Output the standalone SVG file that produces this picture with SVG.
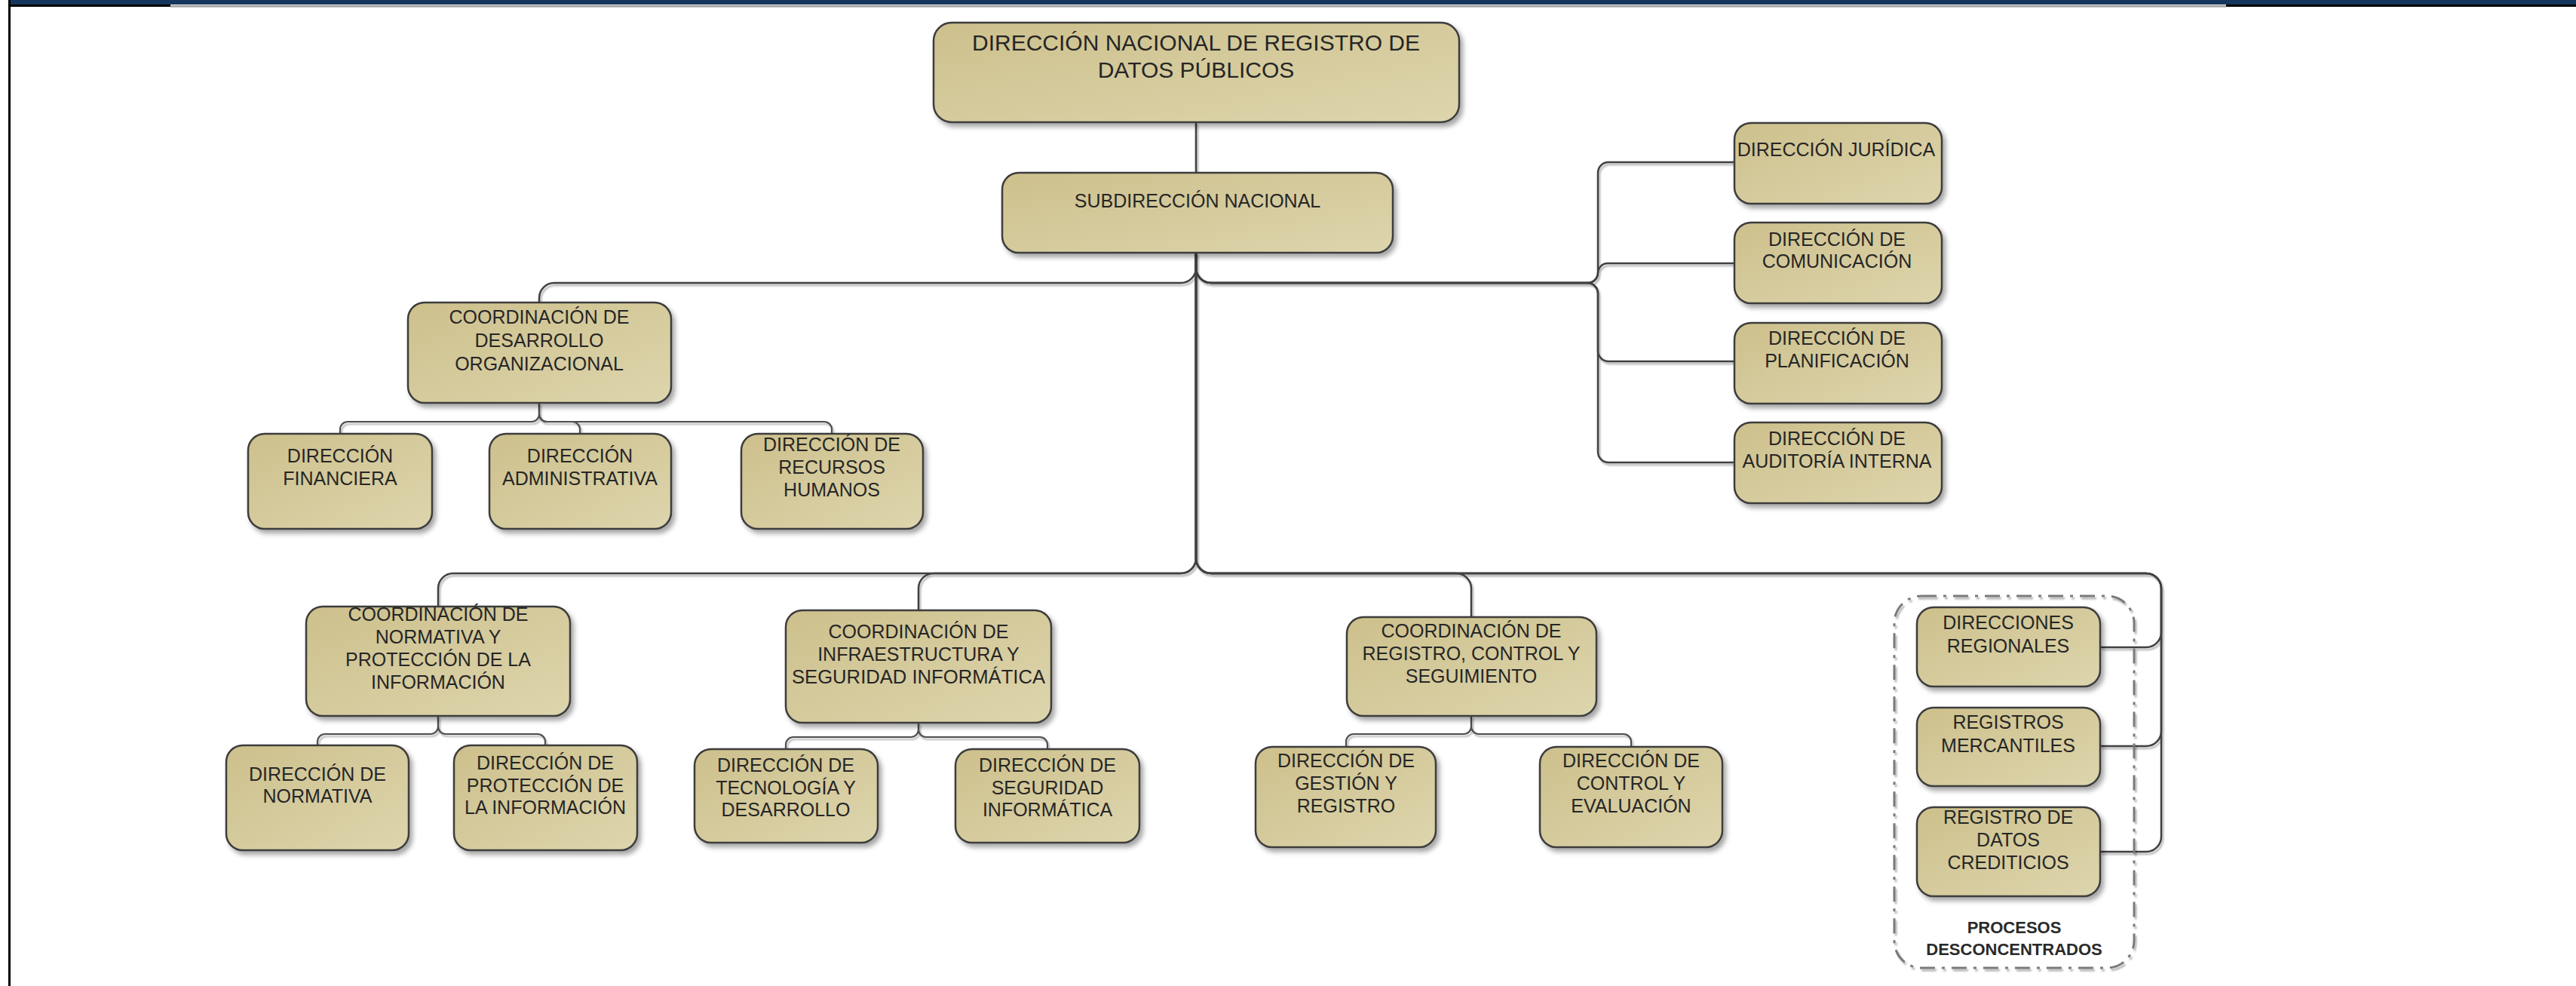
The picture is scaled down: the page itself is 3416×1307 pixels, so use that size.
<svg xmlns="http://www.w3.org/2000/svg" width="3416" height="1307" viewBox="0 0 3416 1307">
<defs>
<linearGradient id="fillG" x1="0" y1="0" x2="1" y2="1">
<stop offset="0" stop-color="#cdc08c"/>
<stop offset="1" stop-color="#ddd5ad"/>
</linearGradient>
<linearGradient id="greyLine" x1="0" y1="0" x2="0" y2="1">
<stop offset="0" stop-color="#8c8c8c"/>
<stop offset="1" stop-color="#c8c8c8"/>
</linearGradient>
<filter id="boxSh" x="-10%" y="-10%" width="125%" height="130%">
<feDropShadow dx="4" dy="5" stdDeviation="3" flood-color="#000" flood-opacity="0.35"/>
</filter>
<filter id="lineSh" x="-5%" y="-5%" width="110%" height="110%">
<feDropShadow dx="2" dy="3" stdDeviation="1.2" flood-color="#000" flood-opacity="0.3"/>
</filter>
</defs>
<style>
.box{fill:url(#fillG);stroke:#3c3c3c;stroke-width:2.5;filter:url(#boxSh)}
.t{font-family:"Liberation Sans",Arial,sans-serif;font-size:25px;fill:#262626;text-anchor:middle}
.tb{font-family:"Liberation Sans",Arial,sans-serif;font-size:30px;fill:#262626;text-anchor:middle}
.tp{font-family:"Liberation Sans",Arial,sans-serif;font-size:22px;font-weight:bold;fill:#2a2a2a;text-anchor:middle}
.c{fill:none;stroke:#404040;stroke-width:2.5}
.c2{fill:none;stroke:#505050;stroke-width:2.2}
</style>
<rect x="0" y="0" width="3416" height="1307" fill="#ffffff"/>
<g id="frame">
<rect x="14" y="0" width="3402" height="6" fill="#17365d"/>
<rect x="11" y="6" width="215" height="3" fill="#000"/>
<rect x="226" y="7" width="2726" height="3" fill="url(#greyLine)"/>
<rect x="2952" y="6" width="464" height="3" fill="#000"/>
<rect x="11" y="0" width="3" height="1307" fill="#000"/>
</g>
<g id="connectors" filter="url(#lineSh)">
<path class="c" d="M1586,162 V229"/>
<path class="c" d="M1586,335 V355 A20,20 0 0 1 1566,375 H735 A20,20 0 0 0 715,395 V401"/>
<path class="c" d="M1586,335 V355 A20,20 0 0 0 1606,375 H2105 A14,14 0 0 0 2119,361 V229 A14,14 0 0 1 2133,215 H2300"/>
<path class="c" d="M1586,335 V355 A20,20 0 0 0 1606,375 H2106 A13,13 0 0 0 2119,362 A13,13 0 0 1 2132,349 H2300"/>
<path class="c" d="M1586,335 V355 A20,20 0 0 0 1606,375 H2105 A14,14 0 0 1 2119,389 V465 A14,14 0 0 0 2133,479 H2300"/>
<path class="c" d="M1586,335 V355 A20,20 0 0 0 1606,375 H2105 A14,14 0 0 1 2119,389 V599 A14,14 0 0 0 2133,613 H2300"/>
<path class="c" d="M1586,335 V740 A20,20 0 0 1 1566,760 H601 A20,20 0 0 0 581,780 V804"/>
<path class="c" d="M1586,335 V740 A20,20 0 0 1 1566,760 H1238 A20,20 0 0 0 1218,780 V809"/>
<path class="c" d="M1586,335 V740 A20,20 0 0 0 1606,760 H1931 A20,20 0 0 1 1951,780 V818"/>
<path class="c" d="M1586,335 V740 A20,20 0 0 0 1606,760 H2846 A20,20 0 0 1 2866,780 V838 A20,20 0 0 1 2846,858 H2785"/>
<path class="c" d="M1586,335 V740 A20,20 0 0 0 1606,760 H2846 A20,20 0 0 1 2866,780 V969 A20,20 0 0 1 2846,989 H2785"/>
<path class="c" d="M1586,335 V740 A20,20 0 0 0 1606,760 H2846 A20,20 0 0 1 2866,780 V1109 A20,20 0 0 1 2846,1129 H2785"/>
<path class="c2" d="M715,534 V549 A10,10 0 0 1 705,559 H461 A10,10 0 0 0 451,569 V575"/>
<path class="c2" d="M715,534 V549 A10,10 0 0 0 725,559 H759 A10,10 0 0 1 769,569 V575"/>
<path class="c2" d="M715,534 V549 A10,10 0 0 0 725,559 H1093 A10,10 0 0 1 1103,569 V575"/>
<path class="c2" d="M581,949 V963 A10,10 0 0 1 571,973 H431 A10,10 0 0 0 421,983 V988"/>
<path class="c2" d="M581,949 V963 A10,10 0 0 0 591,973 H713 A10,10 0 0 1 723,983 V988"/>
<path class="c2" d="M1218,958 V967 A10,10 0 0 1 1208,977 H1052 A10,10 0 0 0 1042,987 V993"/>
<path class="c2" d="M1218,958 V967 A10,10 0 0 0 1228,977 H1379 A10,10 0 0 1 1389,987 V993"/>
<path class="c2" d="M1951,949 V963 A10,10 0 0 1 1941,973 H1795 A10,10 0 0 0 1785,983 V990"/>
<path class="c2" d="M1951,949 V963 A10,10 0 0 0 1961,973 H2153 A10,10 0 0 1 2163,983 V990"/>
</g>
<g id="n-direccion-nacional">
<rect class="box" x="1238" y="30" width="697" height="132" rx="24"/>
<text class="tb" x="1586" y="67">DIRECCIÓN NACIONAL DE REGISTRO DE</text>
<text class="tb" x="1586" y="103">DATOS PÚBLICOS</text>
</g>
<g id="n-subdireccion">
<rect class="box" x="1329" y="229" width="518" height="106" rx="22"/>
<text class="t" x="1588" y="275">SUBDIRECCIÓN NACIONAL</text>
</g>
<g id="n-coord-desarrollo">
<rect class="box" x="541" y="401" width="349" height="133" rx="22"/>
<text class="t" x="715" y="429">COORDINACIÓN DE</text>
<text class="t" x="715" y="460">DESARROLLO</text>
<text class="t" x="715" y="491">ORGANIZACIONAL</text>
</g>
<g id="n-financiera">
<rect class="box" x="329" y="575" width="244" height="126" rx="22"/>
<text class="t" x="451" y="613">DIRECCIÓN</text>
<text class="t" x="451" y="643">FINANCIERA</text>
</g>
<g id="n-administrativa">
<rect class="box" x="649" y="575" width="241" height="126" rx="22"/>
<text class="t" x="769" y="613">DIRECCIÓN</text>
<text class="t" x="769" y="643">ADMINISTRATIVA</text>
</g>
<g id="n-rrhh">
<rect class="box" x="983" y="575" width="241" height="126" rx="22"/>
<text class="t" x="1103" y="598">DIRECCIÓN DE</text>
<text class="t" x="1103" y="628">RECURSOS</text>
<text class="t" x="1103" y="658">HUMANOS</text>
</g>
<g id="n-juridica">
<rect class="box" x="2300" y="163" width="275" height="107" rx="22"/>
<text class="t" x="2435" y="207">DIRECCIÓN JURÍDICA</text>
</g>
<g id="n-comunicacion">
<rect class="box" x="2300" y="295" width="275" height="107" rx="22"/>
<text class="t" x="2436" y="326">DIRECCIÓN DE</text>
<text class="t" x="2436" y="355">COMUNICACIÓN</text>
</g>
<g id="n-planificacion">
<rect class="box" x="2300" y="428" width="275" height="107" rx="22"/>
<text class="t" x="2436" y="457">DIRECCIÓN DE</text>
<text class="t" x="2436" y="487">PLANIFICACIÓN</text>
</g>
<g id="n-auditoria">
<rect class="box" x="2300" y="560" width="275" height="107" rx="22"/>
<text class="t" x="2436" y="590">DIRECCIÓN DE</text>
<text class="t" x="2436" y="620">AUDITORÍA INTERNA</text>
</g>
<g id="n-coord-normativa">
<rect class="box" x="406" y="804" width="350" height="145" rx="22"/>
<text class="t" x="581" y="823">COORDINACIÓN DE</text>
<text class="t" x="581" y="853">NORMATIVA Y</text>
<text class="t" x="581" y="883">PROTECCIÓN DE LA</text>
<text class="t" x="581" y="913">INFORMACIÓN</text>
</g>
<g id="n-dir-normativa">
<rect class="box" x="300" y="988" width="242" height="139" rx="22"/>
<text class="t" x="421" y="1035">DIRECCIÓN DE</text>
<text class="t" x="421" y="1064">NORMATIVA</text>
</g>
<g id="n-dir-proteccion">
<rect class="box" x="602" y="988" width="243" height="139" rx="22"/>
<text class="t" x="723" y="1020">DIRECCIÓN DE</text>
<text class="t" x="723" y="1050">PROTECCIÓN DE</text>
<text class="t" x="723" y="1079">LA INFORMACIÓN</text>
</g>
<g id="n-coord-infra">
<rect class="box" x="1042" y="809" width="352" height="149" rx="22"/>
<text class="t" x="1218" y="846">COORDINACIÓN DE</text>
<text class="t" x="1218" y="876">INFRAESTRUCTURA Y</text>
<text class="t" x="1218" y="906" textLength="336" lengthAdjust="spacingAndGlyphs">SEGURIDAD INFORMÁTICA</text>
</g>
<g id="n-tecnologia">
<rect class="box" x="921" y="993" width="243" height="124" rx="22"/>
<text class="t" x="1042" y="1023">DIRECCIÓN DE</text>
<text class="t" x="1042" y="1053">TECNOLOGÍA Y</text>
<text class="t" x="1042" y="1082">DESARROLLO</text>
</g>
<g id="n-seguridad">
<rect class="box" x="1267" y="993" width="244" height="124" rx="22"/>
<text class="t" x="1389" y="1023">DIRECCIÓN DE</text>
<text class="t" x="1389" y="1053">SEGURIDAD</text>
<text class="t" x="1389" y="1082">INFORMÁTICA</text>
</g>
<g id="n-coord-registro">
<rect class="box" x="1786" y="818" width="331" height="131" rx="22"/>
<text class="t" x="1951" y="845">COORDINACIÓN DE</text>
<text class="t" x="1951" y="875">REGISTRO, CONTROL Y</text>
<text class="t" x="1951" y="905">SEGUIMIENTO</text>
</g>
<g id="n-gestion">
<rect class="box" x="1665" y="990" width="239" height="133" rx="22"/>
<text class="t" x="1785" y="1017">DIRECCIÓN DE</text>
<text class="t" x="1785" y="1047">GESTIÓN Y</text>
<text class="t" x="1785" y="1077">REGISTRO</text>
</g>
<g id="n-control">
<rect class="box" x="2042" y="990" width="242" height="133" rx="22"/>
<text class="t" x="2163" y="1017">DIRECCIÓN DE</text>
<text class="t" x="2163" y="1047">CONTROL Y</text>
<text class="t" x="2163" y="1077">EVALUACIÓN</text>
</g>
<g id="g-procesos">
<rect x="2512" y="790" width="318" height="493" rx="36" fill="none" stroke="#7a7a7a" stroke-width="3" stroke-dasharray="20 9 4 9" filter="url(#lineSh)"/>
<text class="tp" x="2671" y="1237">PROCESOS</text>
<text class="tp" x="2671" y="1266">DESCONCENTRADOS</text>
</g>
<g id="n-regionales">
<rect class="box" x="2542" y="805" width="243" height="105" rx="22"/>
<text class="t" x="2663" y="834">DIRECCIONES</text>
<text class="t" x="2663" y="865">REGIONALES</text>
</g>
<g id="n-mercantiles">
<rect class="box" x="2542" y="938" width="243" height="104" rx="22"/>
<text class="t" x="2663" y="966">REGISTROS</text>
<text class="t" x="2663" y="997">MERCANTILES</text>
</g>
<g id="n-crediticios">
<rect class="box" x="2542" y="1070" width="243" height="118" rx="22"/>
<text class="t" x="2663" y="1092">REGISTRO DE</text>
<text class="t" x="2663" y="1122">DATOS</text>
<text class="t" x="2663" y="1152">CREDITICIOS</text>
</g>
</svg>
